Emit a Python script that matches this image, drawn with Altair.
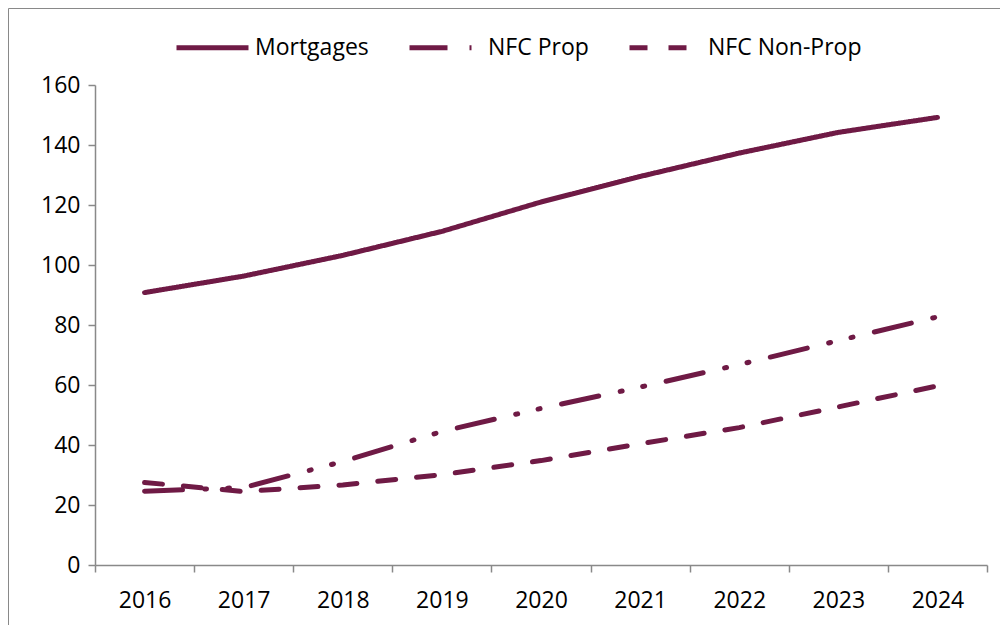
import altair as alt
import pandas as pd

years = ["2016", "2017", "2018", "2019", "2020", "2021", "2022", "2023", "2024"]
mortgages = [90.8, 96.3, 103.2, 111.2, 121.0, 129.5, 137.3, 144.2, 149.2]
nfc_prop = [24.6, 25.8, 34.5, 44.5, 52.2, 59.3, 66.8, 74.8, 82.7]
nfc_nonprop = [27.5, 24.5, 26.7, 30.1, 34.8, 40.4, 45.8, 52.7, 59.7]
series_names = ["Mortgages", "NFC Prop", "NFC Non-Prop"]
y_ticks = [0, 20, 40, 60, 80, 100, 120, 140, 160]

rows = []
for name, vals in zip(series_names, [mortgages, nfc_prop, nfc_nonprop]):
    for yr, v in zip(years, vals):
        rows.append({"year": yr, "value": v, "series": name})
df = pd.DataFrame(rows)

COLOR = "#6f1a45"
GRAY = "#898989"
FONT = "Open Sans"
FS = 23

frame = alt.Chart(pd.DataFrame({"a": [0]})).mark_rect(
    fill="white", fillOpacity=0, stroke=GRAY, strokeWidth=1
).encode(
    x=alt.value(-86.5), x2=alt.value(1200), y=alt.value(-76.5), y2=alt.value(900)
)

lines = alt.Chart(df).mark_line(
    strokeWidth=5, strokeCap="round", strokeJoin="round", color=COLOR
).encode(
    x=alt.X(
        "year:O",
        sort=years,
        scale=alt.Scale(type="band", paddingInner=0, paddingOuter=0),
        axis=alt.Axis(title=None, tickBand="extent", labelAngle=0, labelPadding=17),
    ),
    y=alt.Y(
        "value:Q",
        scale=alt.Scale(domain=[0, 160], nice=False),
        axis=alt.Axis(title=None, values=y_ticks, grid=False, labelPadding=8),
    ),
    strokeDash=alt.StrokeDash(
        "series:N",
        scale=alt.Scale(
            domain=series_names,
            range=[[1, 0], [38, 22, 2, 21, 2, 22], [18, 21]],
        ),
        legend=alt.Legend(
            title=None,
            orient="none",
            direction="horizontal",
            legendX=79,
            legendY=-76,
            symbolType="stroke",
            symbolSize=5184,
            symbolStrokeWidth=5,
            symbolStrokeColor=COLOR,
            labelFont=FONT,
            labelFontSize=FS,
            labelColor="black",
            labelOffset=4,
            columnPadding=30,
            padding=0,
        ),
    ),
)

chart = alt.layer(frame, lines).properties(
    width=892,
    height=480,
    padding={"left": 87, "top": 77, "right": 13, "bottom": 60},
    autosize=alt.AutoSizeParams(type="none"),
).configure_view(stroke=None).configure_axis(
    domainColor=GRAY,
    tickColor=GRAY,
    domainWidth=1.5,
    tickWidth=1.5,
    tickSize=7,
    labelFont=FONT,
    labelFontSize=FS,
    labelColor="black",
)

chart.save("out.html", embed_options={"renderer": "svg", "actions": False})
